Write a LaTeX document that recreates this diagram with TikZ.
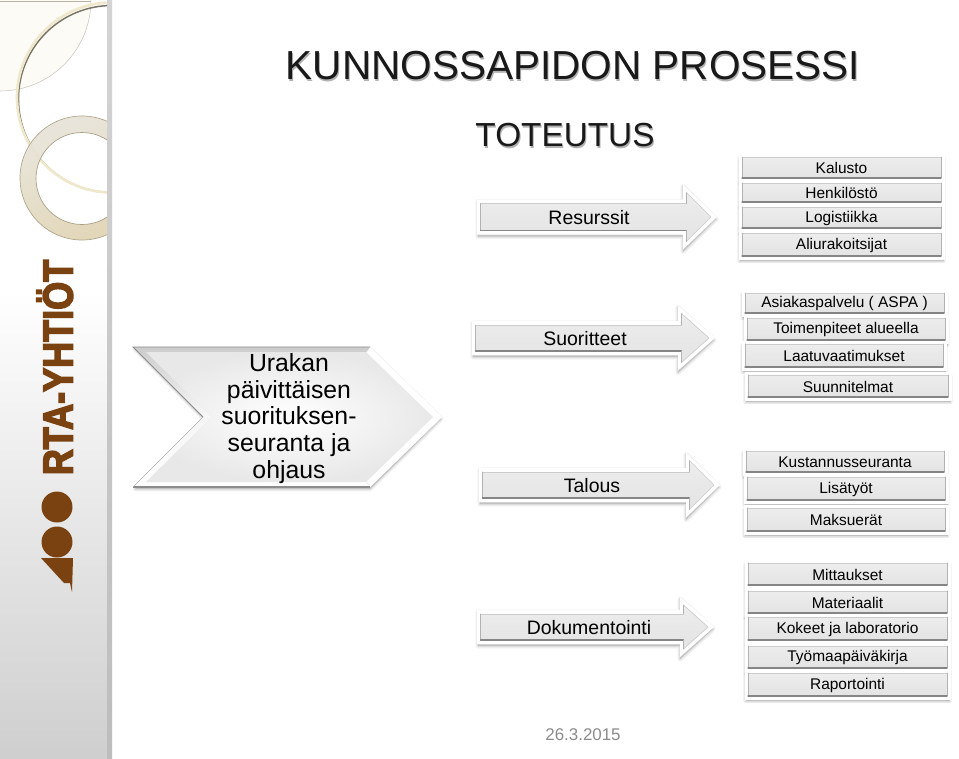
\documentclass[tikz,border=0pt]{standalone}
\usepackage{fontspec}
\setmainfont{Liberation Sans}
\newfontfamily\logofont{Liberation Sans}[BoldFeatures={FakeBold=4}]
\usetikzlibrary{calc}
\definecolor{brownlogo}{HTML}{7A4210}
\definecolor{barface}{HTML}{EDEDED}
\definecolor{cream}{HTML}{EFE8CC}
\definecolor{ringa}{HTML}{E8E4DA}
\definecolor{ringb}{HTML}{E0D4B2}
\tikzset{
  px/.style={x=.75pt,y=-.75pt},
  softshadow/.style={black,opacity=.045,line join=round},
  frameface/.style={fill=white},
  faceshade/.style={top color=barface,bottom color=barface!96!black},
  bartext/.style={font=\fontsize{11.6}{13}\selectfont,inner sep=0pt,text=black},
  arrowtext/.style={font=\fontsize{14.6}{16}\selectfont,inner sep=0pt,text=black},
  darkedge/.style={draw=black!48,line width=.9pt,line cap=round},
  lightedge/.style={draw=black!20,line width=.5pt,line cap=round},
  midedge/.style={draw=black!30,line width=.6pt,line cap=round},
}
% name x1 y1 x2 y2 text
\newcommand{\barbox}[6]{%
  \pgfmathsetmacro{\fa}{#2-3.5}\pgfmathsetmacro{\fb}{#3-3.5}%
  \pgfmathsetmacro{\fc}{#4+3.5}\pgfmathsetmacro{\fd}{#5+3.5}%
  \foreach \lw in {3.6,2.4,1.2}{\draw[softshadow,line width=\lw pt,fill=black] (\fa+1,\fb+5) rectangle (\fc-1,\fd+1.5);}
  \fill[frameface] (\fa,\fb) rectangle (\fc,\fd);
  \shade[faceshade] (#2,#3) rectangle (#4,#5);
  \draw[lightedge] (#2,#3) -- (#4,#3);
  \draw[midedge] (#2,#5) -- (#2,#3);
  \draw[midedge] (#4,#3) -- (#4,#5);
  \draw[darkedge] (#2,#5) -- (#4,#5);
  \node[bartext] (#1) at ({(#2+#4)/2},{(#3+#5)/2+.8}) {#6};
}
% name x1 xh xt ym hs hh textx text
\newcommand{\blockarrow}[9]{%
  \foreach \lw in {4,2.6,1.3}{\draw[softshadow,line width=\lw pt,fill=black]
    (#2+1,#5+2-#6) -- (#3,#5+2-#6) -- (#3,#5+2-#7) -- (#4-1,#5+2) -- (#3,#5+2+#7) -- (#3,#5+2+#6) -- (#2+1,#5+2+#6) -- cycle;}
  \fill[frameface] (#2,#5-#6) -- (#3,#5-#6) -- (#3,#5-#7) -- (#4,#5) -- (#3,#5+#7) -- (#3,#5+#6) -- (#2,#5+#6) -- cycle;
  \pgfmathsetmacro{\ia}{#2+3.5}\pgfmathsetmacro{\ib}{#3+3.5}\pgfmathsetmacro{\ic}{#4-6}%
  \pgfmathsetmacro{\hs}{#6-4}\pgfmathsetmacro{\hh}{#7-8}%
  \shade[faceshade] (\ia,#5-\hs) -- (\ib,#5-\hs) -- (\ib,#5-\hh) -- (\ic,#5) -- (\ib,#5+\hh) -- (\ib,#5+\hs) -- (\ia,#5+\hs) -- cycle;
  \draw[lightedge] (\ia,#5-\hs) -- (\ib,#5-\hs);
  \draw[midedge] (\ib,#5-\hs) -- (\ib,#5-\hh);
  \draw[midedge] (\ia,#5+\hs) -- (\ia,#5-\hs);
  \draw[lightedge] (\ib,#5-\hh) -- (\ic,#5);
  \draw[lightedge] (\ic,#5) -- (\ib,#5+\hh);
  \draw[darkedge] (\ia,#5+\hs) -- (\ib,#5+\hs);
  \draw[midedge] (\ib,#5+\hs) -- (\ib,#5+\hh);
  \node[arrowtext] (#1) at (#8,#5+1) {#9};
}
\begin{document}
\begin{tikzpicture}[px]
\useasboundingbox (0,0) rectangle (959,758);
\fill[white] (0,0) rectangle (959,758);
% sidebar
\shade[top color=white,bottom color=black!19] (0,290) rectangle (107,758);
\shade[top color=black!17,bottom color=black!26] (107,0) rectangle (112,758);
% ornaments
\begin{scope}
\clip (0,0) rectangle (107,758);
\fill[cream!18] (0,0) -- (91,0) arc[start angle=0,end angle=90,radius=91] -- cycle;
\draw[cream!70!black!60,line width=.4pt] (91,0) arc[start angle=0,end angle=90,radius=91];
\draw[cream!70!black!80,line width=.4pt] (0,1) -- (91,1);
\draw[black!50!cream,line width=1.1pt] (112,99) circle[radius=93.5];
\draw[cream,line width=2pt] (112,97.5) circle[radius=95];
\shade[left color=ringa,right color=ringb,even odd rule,opacity=.93,shading angle=25]
  (82,178) circle[radius=62] (82,178.5) circle[radius=46];
\draw[black!22!ringb,line width=.5pt] (82,178) circle[radius=62];
\draw[black!25!ringb,line width=.5pt] (82,178.5) circle[radius=46];
\end{scope}
% logo
\node[anchor=base,rotate=90,inner sep=0pt,text=brownlogo,font=\fontsize{31.4}{33}\selectfont\logofont\bfseries] (logo) at (72.5,367.5) {\scalebox{.86}[1]{RTA-YHTIÖT}};
\fill[brownlogo] (57,507) circle[radius=15.5];
\fill[brownlogo] (57,542) circle[radius=15.5];
\fill[brownlogo] (41,558) -- (73,558) -- (72,592) -- (70,583) -- (64,583) -- cycle;
% titles
\node[inner sep=0pt,text=black!30,font=\fontsize{30.4}{32}\selectfont] at (574,68) {KUNNOSSAPIDON PROSESSI};
\node[inner sep=0pt,text=black!90,font=\fontsize{30.4}{32}\selectfont] (title) at (573,66) {KUNNOSSAPIDON PROSESSI};
\node[inner sep=0pt,text=black!30,font=\fontsize{25}{27}\selectfont] at (566,137) {TOTEUTUS};
\node[inner sep=0pt,text=black!90,font=\fontsize{25}{27}\selectfont] (sub) at (565,135) {TOTEUTUS};
% chevron
\foreach \lw in {3.6,2.4,1.2}{\draw[softshadow,line width=\lw pt,fill=black] (135,349) -- (370,349) -- (441,419) -- (370,489) -- (135,489) -- (204,419) -- cycle;}
\fill[black!10] (133,347) -- (370,347) -- (442,417) -- (370,487) -- (133,487) -- (203,417) -- cycle;
\fill[white] (370,347) -- (442,417) -- (370,487) -- (366,480) -- (433,417) -- (366,354) -- cycle;
\shade[top color=black!20,bottom color=black!3] (133,347) -- (370,347) -- (366,352) -- (146,352) -- (212,417) -- (203,417) -- cycle;
\shade[top color=black!4,bottom color=white] (133,487) -- (203,417) -- (212,417) -- (146,482) -- (366,482) -- (370,487) -- cycle;
\shade[inner color=white,outer color=black!9] (146,352) -- (366,352) -- (433,417) -- (366,482) -- (146,482) -- (212,417) -- cycle;
\draw[black!45,line width=.6pt] (203,417) -- (133,347) -- (370,347);
\draw[black!45,line width=.9pt] (133,487) -- (370,487);
\draw[black!30,line width=.5pt] (133,487) -- (203,417);
\node[inner sep=0pt,align=center,text=black,font=\fontsize{18.6}{20}\selectfont] (main) at (289,418.5) {Urakan\\päivittäisen\\suorituksen-\\seuranta ja\\ohjaus};
% arrows
\blockarrow{resurssit}{477}{683}{717}{217}{17.5}{32.5}{589}{Resurssit}
\blockarrow{suoritteet}{472}{678}{715}{338}{17}{32.5}{585}{Suoritteet}
\blockarrow{talous}{479}{686}{720}{485}{17}{32.5}{592}{Talous}
\blockarrow{dokumentointi}{477}{680}{714}{627}{17}{30}{589}{Dokumentointi}
% group 1
\barbox{kalusto}{742}{157}{941}{178}{Kalusto}
\barbox{henkilosto}{742}{183}{941}{202}{Henkilöstö}
\barbox{logistiikka}{742}{207}{941}{228}{Logistiikka}
\barbox{aliurakoitsijat}{742}{233}{941}{256}{Aliurakoitsijat}
% group 2
\barbox{asiakas}{745}{293}{944}{313}{Asiakaspalvelu ( ASPA )}
\barbox{toimenpiteet}{747}{318}{945}{340}{Toimenpiteet alueella}
\barbox{laatu}{745}{344}{943}{367}{Laatuvaatimukset}
\barbox{suunnitelmat}{748}{375}{948}{397}{Suunnitelmat}
% group 3
\barbox{kustannus}{746}{451}{944}{472}{Kustannusseuranta}
\barbox{lisatyot}{747}{477}{945}{500}{Lisätyöt}
\barbox{maksuerat}{747}{508}{945}{531}{Maksuerät}
% group 4
\barbox{mittaukset}{748}{563}{947}{585}{Mittaukset}
\barbox{materiaalit}{748}{591}{947}{613}{Materiaalit}
\barbox{kokeet}{748}{617}{947}{640}{Kokeet ja laboratorio}
\barbox{tyomaa}{748}{646}{947}{668}{Työmaapäiväkirja}
\barbox{raportointi}{748}{673}{947}{696}{Raportointi}
% date
\node[inner sep=0pt,text=black!45,font=\fontsize{12.7}{14}\selectfont] (date) at (583,735) {26.3.2015};
\end{tikzpicture}
\end{document}
